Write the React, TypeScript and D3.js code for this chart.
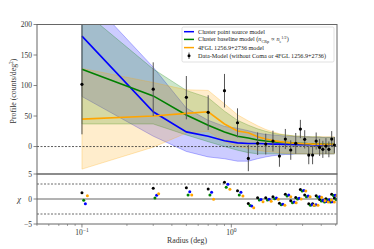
import React from 'react';
import * as d3 from 'd3';

// radial bins (deg)
const radius = [0.1, 0.3, 0.5, 0.7, 0.9, 1.1, 1.3, 1.5, 1.7, 1.9, 2.1, 2.3, 2.5, 2.7, 2.9, 3.1, 3.3, 3.5, 3.7, 3.9, 4.1, 4.3, 4.5, 4.7, 4.9];

// data - model profile with errors
const profile = [102, 94, 80.6, 56, 91.5, 39, -19.4, 5.2, 4, 9, -15.6, 12.3, -5.7, 5.2, 28.7, 11.8, -14, -14, 9, -1.4, -4.6, 0.8, -4.6, 12.3, 2.5];
const errLow = [82, 44, 36, 29, 27.5, 24, 21, 19, 17, 17, 17.5, 16.5, 16, 17, 15, 15, 15, 15, 14, 14, 14, 13, 13, 13, 13];
const errHigh = [110, 44, 35, 28, 27.5, 23.6, 22, 18, 17, 17, 17.5, 16.5, 16, 17, 15, 15, 15, 15, 14, 14, 14, 13, 13, 13, 13];

// point source model
const pointModel = [181, 57, 24, 17, 9.5, 6, 5, 5, 4.5, 4, 4, 3.5, 3.5, 3, 3, 3, 3, 3, 2.5, 2.5, 2.5, 2.5, 2.5, 2.5, 2.5];
const pointLo = [82, 17, -8, -17, -20, -24, -24, -20, -17, -15, -14, -13, -13, -12, -12, -12, -12, -12, -12, -12, -12, -12, -12, -12, -12];
const pointHi = [255, 130, 63, 43, 33, 30, 26, 22, 20, 19, 18, 17, 17, 16, 16, 16, 16, 15, 15, 15, 15, 15, 15, 15, 15];

// baseline model
const baseModel = [126.5, 83, 51.6, 35, 24, 17, 14, 10.6, 9, 8, 7, 6.5, 6, 5.5, 5, 5, 4.5, 4.5, 4, 4, 4, 3.5, 3.5, 3.5, 3.5];
const baseLo = [37, 37, 19, 8, 0, -6, -10, -12, -12, -12, -12, -12, -12, -12, -12, -12, -12, -12, -12, -12, -12, -12, -12, -12, -12];
const baseHi = [224, 127, 92, 80, 58, 43, 35, 29, 25, 22, 20, 19, 18, 17, 17, 16, 16, 16, 16, 16, 15, 15, 15, 15, 15];

// 4FGL source model
const fglModel = [45, 50, 54.4, 57, 37, 25.4, 22.6, 16, 12.3, 10, 8, 7, 6, 5.5, 5, 4.5, 4.5, 4, 4, 4, 3.5, 3.5, 3.5, 3.5, 3.5];
const fglLo = [-37, -1, 22, 25, 8, 0, -3, -6, -8, -9, -10, -11, -11, -12, -12, -12, -12, -12, -12, -12, -12, -12, -12, -12, -12];
const fglHi = [128, 105, 93, 92, 70, 52, 42, 34, 28, 24, 21, 19, 18, 17, 17, 16, 16, 16, 16, 16, 16, 16, 16, 16, 16];

// residuals (chi)
const chiData = [1.27, 2.13, 2.27, 2.0, 3.33, 1.67, -0.9, 0.25, 0.25, 0.47, -0.87, 0.93, -0.35, 0.3, 1.9, 0.8, -0.93, -0.93, 0.64, -0.1, -0.33, 0.06, -0.35, 0.95, 0.19];
const chiBase = [-0.27, 0.2, 0.8, 0.8, 2.33, 0.8, -1.3, -0.2, -0.2, 0.07, -1.13, 0.6, -0.73, 0.0, 1.6, 0.45, -1.23, -1.23, 0.36, -0.39, -0.61, -0.21, -0.62, 0.68, -0.08];
const chiPoint = [-0.93, 0.73, 1.47, 1.33, 2.93, 1.33, -1.4, -0.1, -0.05, 0.2, -1.07, 0.8, -0.58, 0.13, 1.7, 0.6, -1.13, -1.13, 0.46, -0.28, -0.51, -0.13, -0.55, 0.75, 0.0];
const chiFgl = [0.67, 1.07, 0.8, -0.07, 1.93, 0.6, -1.75, -0.55, -0.45, -0.07, -1.27, 0.47, -0.73, 0.0, 1.6, 0.45, -1.23, -1.23, 0.36, -0.35, -0.58, -0.21, -0.62, 0.68, -0.08];

const yTicks = [0, 50, 100, 150, 200];
const chiTicks = [-5, 0, 5];

const W = 374, H = 249;
const left = 37, right = 337, top = 24.5, mid = 174, bottom = 224;
const font = '"Liberation Serif", "DejaVu Serif", serif';
const axisGray = '#666';

const x = d3.scaleLog().domain([0.05, 5.1]).range([left, right]);
const y = d3.scaleLinear().domain([-45, 200]).range([mid, top]);
const yc = d3.scaleLinear().domain([-5, 5]).range([bottom, mid]);

const models = [
  { color: '#0000ff', line: pointModel, lo: pointLo, hi: pointHi, chi: chiPoint, shift: 1.054 },
  { color: '#008000', line: baseModel, lo: baseLo, hi: baseHi, chi: chiBase, shift: 1.027 },
  { color: '#ffa500', line: fglModel, lo: fglLo, hi: fglHi, chi: chiFgl, shift: 1.087 },
];

const lineGen = d3.line<number>().x((d, i) => x(radius[i])).y(d => y(d));

function bandPath(lo: number[], hi: number[]) {
  const area = d3.area<number>()
    .x((d, i) => x(radius[i]))
    .y0((d, i) => y(lo[i]))
    .y1((d, i) => y(hi[i]));
  return area(radius) || '';
}

const minorTicks = [0.05, 0.06, 0.07, 0.08, 0.09, 0.2, 0.3, 0.4, 0.5, 0.6, 0.7, 0.8, 0.9, 2, 3, 4, 5];

export default function App() {
  return (
    <svg width={W} height={H} style={{ position: 'absolute', left: 0, top: 0, background: '#fff' }} fontFamily={font}>
      <defs>
        <clipPath id="mainClip"><rect x={left} y={top} width={right - left} height={mid - top} /></clipPath>
        <clipPath id="resClip"><rect x={left} y={mid} width={right - left} height={bottom - mid} /></clipPath>
      </defs>

      {/* main panel */}
      <g clipPath="url(#mainClip)">
        {models.map((m, k) => (
          <path key={'b' + k} d={bandPath(m.lo, m.hi)} fill={m.color} fillOpacity={0.2} stroke={m.color} strokeOpacity={0.45} strokeWidth={0.6} />
        ))}
        {models.map((m, k) => (
          <path key={'l' + k} d={lineGen(m.line) || ''} fill="none" stroke={m.color} strokeWidth={1.6} />
        ))}
        <line x1={left} x2={right} y1={y(0)} y2={y(0)} stroke="#333" strokeWidth={0.8} strokeDasharray="2,1.5" />
        {radius.map((r, i) => (
          <g key={'d' + i}>
            <line x1={x(r)} x2={x(r)} y1={y(profile[i] - errLow[i])} y2={y(profile[i] + errHigh[i])} stroke="#555" strokeWidth={1} />
            <circle cx={x(r)} cy={y(profile[i])} r={1.6} fill="#000" />
          </g>
        ))}
      </g>

      {/* residual panel */}
      <g clipPath="url(#resClip)">
        <line x1={left} x2={right} y1={yc(0)} y2={yc(0)} stroke={axisGray} strokeWidth={1} />
        <line x1={left} x2={right} y1={yc(3)} y2={yc(3)} stroke="#444" strokeWidth={0.8} strokeDasharray="2,1.5" />
        <line x1={left} x2={right} y1={yc(-3)} y2={yc(-3)} stroke="#444" strokeWidth={0.8} strokeDasharray="2,1.5" />
        {radius.map((r, i) => (
          <circle key={'kc' + i} cx={x(r)} cy={yc(chiData[i])} r={1.5} fill="#000" />
        ))}
        {[models[1], models[0], models[2]].map((m, k) =>
          radius.map((r, i) => (
            <circle key={'c' + k + '-' + i} cx={x(r * m.shift)} cy={yc(m.chi[i])} r={1.5} fill={m.color} />
          ))
        )}
      </g>

      {/* frames */}
      <rect x={left} y={top} width={right - left} height={mid - top} fill="none" stroke={axisGray} strokeWidth={1} />
      <rect x={left} y={mid} width={right - left} height={bottom - mid} fill="none" stroke={axisGray} strokeWidth={1} />

      {/* y ticks main */}
      {yTicks.map(t => (
        <g key={'yt' + t}>
          <line x1={left - 3.5} x2={left} y1={y(t)} y2={y(t)} stroke={axisGray} strokeWidth={0.8} />
          <text x={left - 5} y={y(t) + 2.6} fontSize={7.5} textAnchor="end" fill="#333">{t}</text>
        </g>
      ))}
      {chiTicks.map(t => (
        <g key={'ct' + t}>
          <line x1={left - 3.5} x2={left} y1={yc(t)} y2={yc(t)} stroke={axisGray} strokeWidth={0.8} />
          <text x={left - 5} y={yc(t) + 2.6} fontSize={7.5} textAnchor="end" fill="#333">{t < 0 ? '\u2212' + Math.abs(t) : t}</text>
        </g>
      ))}

      {/* x ticks */}
      {[0.1, 1].map(t => (
        <line key={'xm' + t} x1={x(t)} x2={x(t)} y1={bottom} y2={bottom + 3.5} stroke={axisGray} strokeWidth={0.8} />
      ))}
      {minorTicks.map(t => (
        <line key={'xn' + t} x1={x(t)} x2={x(t)} y1={bottom} y2={bottom + 2} stroke={axisGray} strokeWidth={0.6} />
      ))}
      <text x={x(0.1)} y={bottom + 11} fontSize={7.5} textAnchor="middle" fill="#333">10<tspan dy={-3} fontSize={5.5}>{'\u2212'}1</tspan></text>
      <text x={x(1)} y={bottom + 11} fontSize={7.5} textAnchor="middle" fill="#333">10<tspan dy={-3} fontSize={5.5}>0</tspan></text>

      {/* axis labels */}
      <text x={(left + right) / 2} y={243} fontSize={7.8} textAnchor="middle" fill="#333">Radius (deg)</text>
      <text transform={`translate(16,${91}) rotate(-90)`} fontSize={7.8} textAnchor="middle" fill="#333">
        Profile (counts/deg<tspan dy={-3} fontSize={5.5}>2</tspan><tspan dy={3}>)</tspan>
      </text>
      <text x={19} y={yc(0) + 3} fontSize={8.5} textAnchor="middle" fill="#333" fontStyle="italic">χ</text>

      {/* legend */}
      <g>
        <rect x={182} y={27} width={152} height={35} rx={1.5} fill="#fff" fillOpacity={0.85} stroke="#ccc" strokeWidth={0.6} />
        {models.map((m, k) => {
          const ly = [31.7, 39.4, 47.6][k];
          return <line key={'lg' + k} x1={184} x2={194} y1={ly} y2={ly} stroke={m.color} strokeWidth={1.5} />;
        })}
        <line x1={189} x2={189} y1={52.5} y2={59} stroke="#555" strokeWidth={1} />
        <circle cx={189} cy={55.7} r={1.5} fill="#000" />
        <g fontSize={6.2} fill="#222">
          <text x={198} y={33.6}>Cluster point source model</text>
          <text x={198} y={41.3}>Cluster baseline model (<tspan fontStyle="italic">n</tspan><tspan dy={1.2} fontSize={4.2}>CRp</tspan><tspan dy={-1.2}> ∝ </tspan><tspan fontStyle="italic">n</tspan><tspan dy={1.2} fontSize={4.2}>e</tspan><tspan dy={-3.4} fontSize={4.2}>1/2</tspan><tspan dy={2.2}>)</tspan></text>
          <text x={198} y={49.5}>4FGL 1256.9+2736 model</text>
          <text x={198} y={57.6}>Data-Model (without Coma or 4FGL 1256.9+2736)</text>
        </g>
      </g>
    </svg>
  );
}
